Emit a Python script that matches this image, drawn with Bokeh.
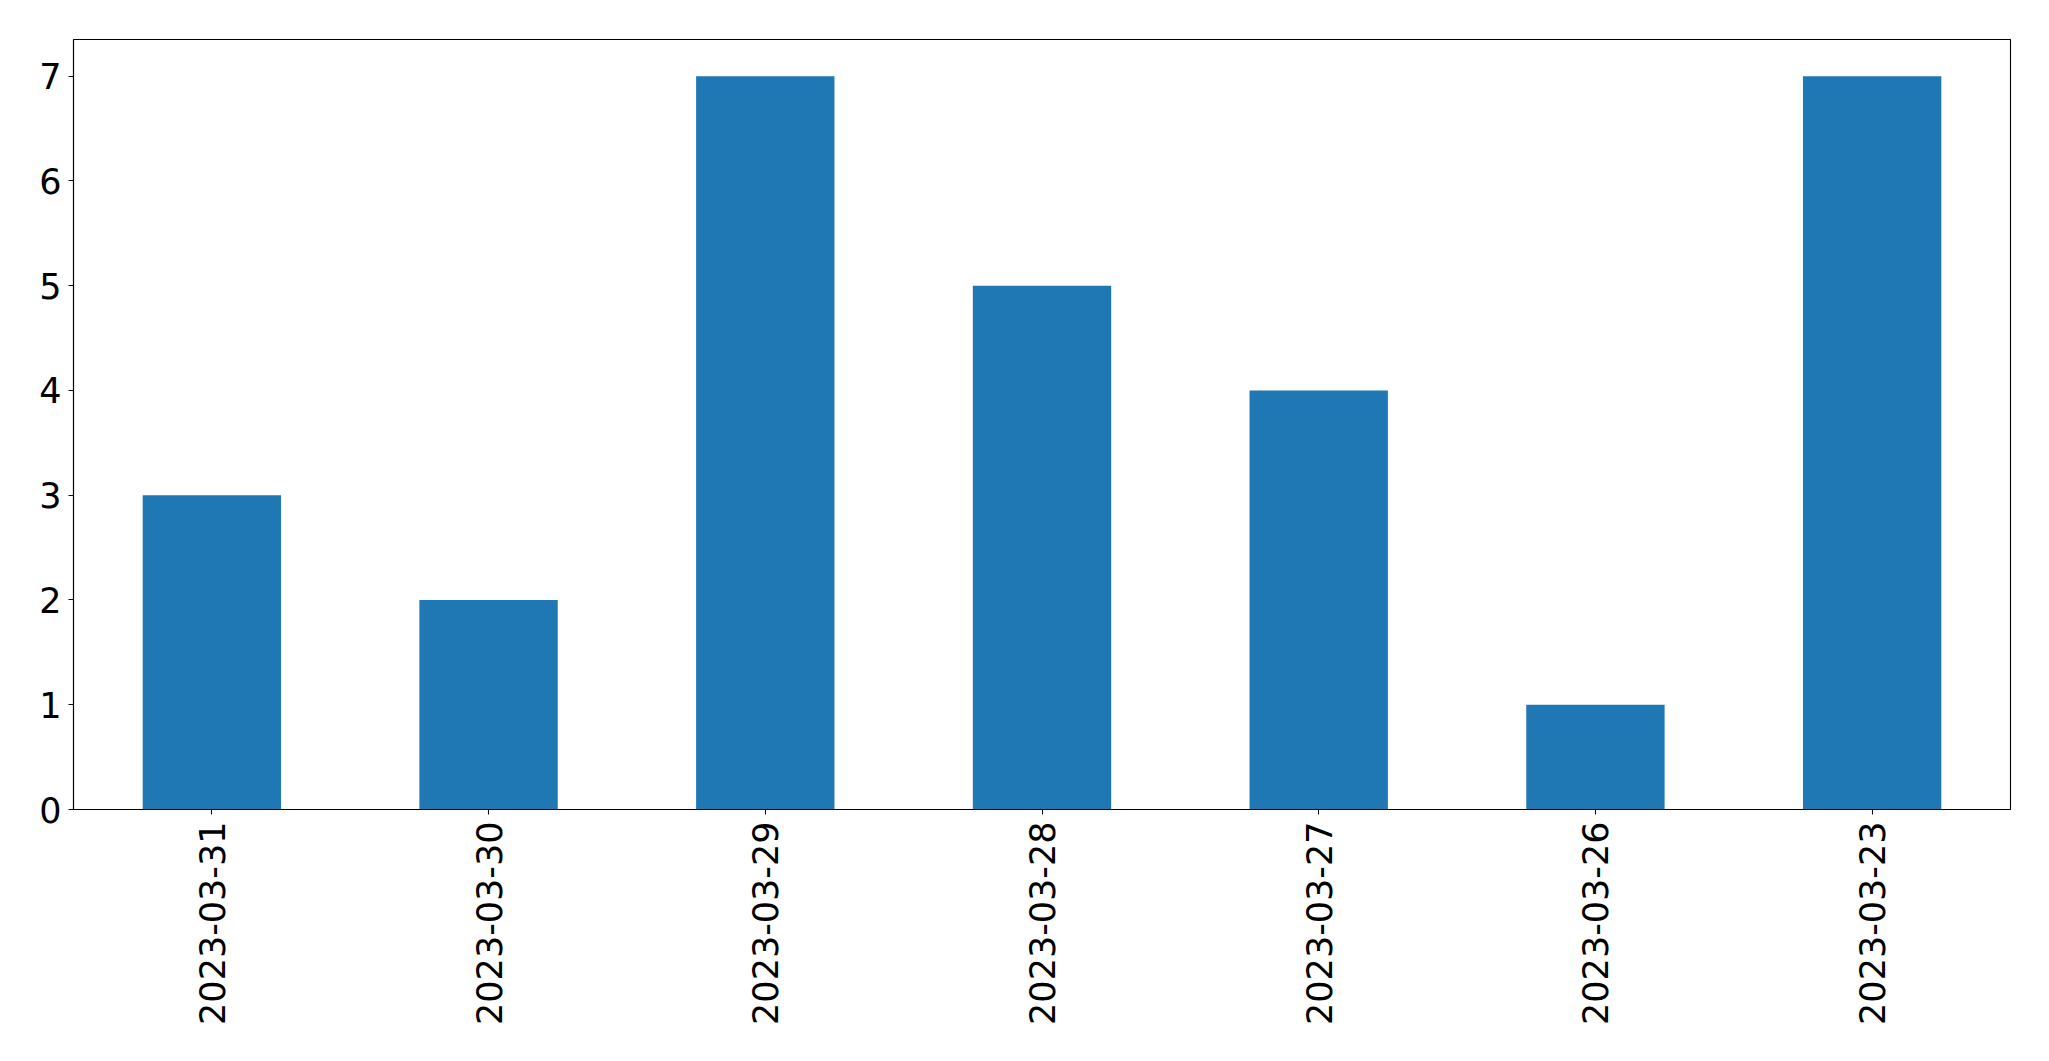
import math
from bokeh.plotting import figure
from bokeh.models import FactorRange, Range1d, FixedTicker
from bokeh.embed import file_html
from bokeh.resources import INLINE

dates = ["2023-03-31", "2023-03-30", "2023-03-29", "2023-03-28", "2023-03-27", "2023-03-26", "2023-03-23"]
counts = [3, 2, 7, 5, 4, 1, 7]
y_ticks = [0, 1, 2, 3, 4, 5, 6, 7]

p = figure(
    x_range=FactorRange(factors=dates, range_padding=0.0),
    y_range=Range1d(0, 7.35),
    frame_width=1937, frame_height=770,
    min_border_left=73, min_border_top=39, min_border_right=30, min_border_bottom=230,
    output_backend="svg", toolbar_location=None,
)
p.x_range.factor_padding = 0.0
p.vbar(x=dates, top=counts, width=0.5, color="#1f77b4", line_color=None)

p.xgrid.visible = False
p.ygrid.visible = False
p.outline_line_color = "black"
p.outline_line_width = 1.1
p.outline_line_alpha = 1.0

for ax in (p.xaxis[0], p.yaxis[0]):
    ax.axis_line_color = "black"
    ax.axis_line_width = 1.1
    ax.major_tick_line_color = "black"
    ax.major_tick_line_width = 1.1
    ax.major_tick_in = 0
    ax.major_tick_out = 5
    ax.minor_tick_line_color = None
    ax.major_label_text_font = "DejaVu Sans"
    ax.major_label_text_font_size = "35px"
    ax.major_label_text_color = "black"
    ax.major_label_standoff = 7

p.yaxis[0].ticker = FixedTicker(ticks=y_ticks)
p.xaxis[0].major_label_orientation = math.pi / 2
p.xaxis[0].group_text_font_size = "0px"

open("out.html", "w").write(file_html(p, INLINE))
